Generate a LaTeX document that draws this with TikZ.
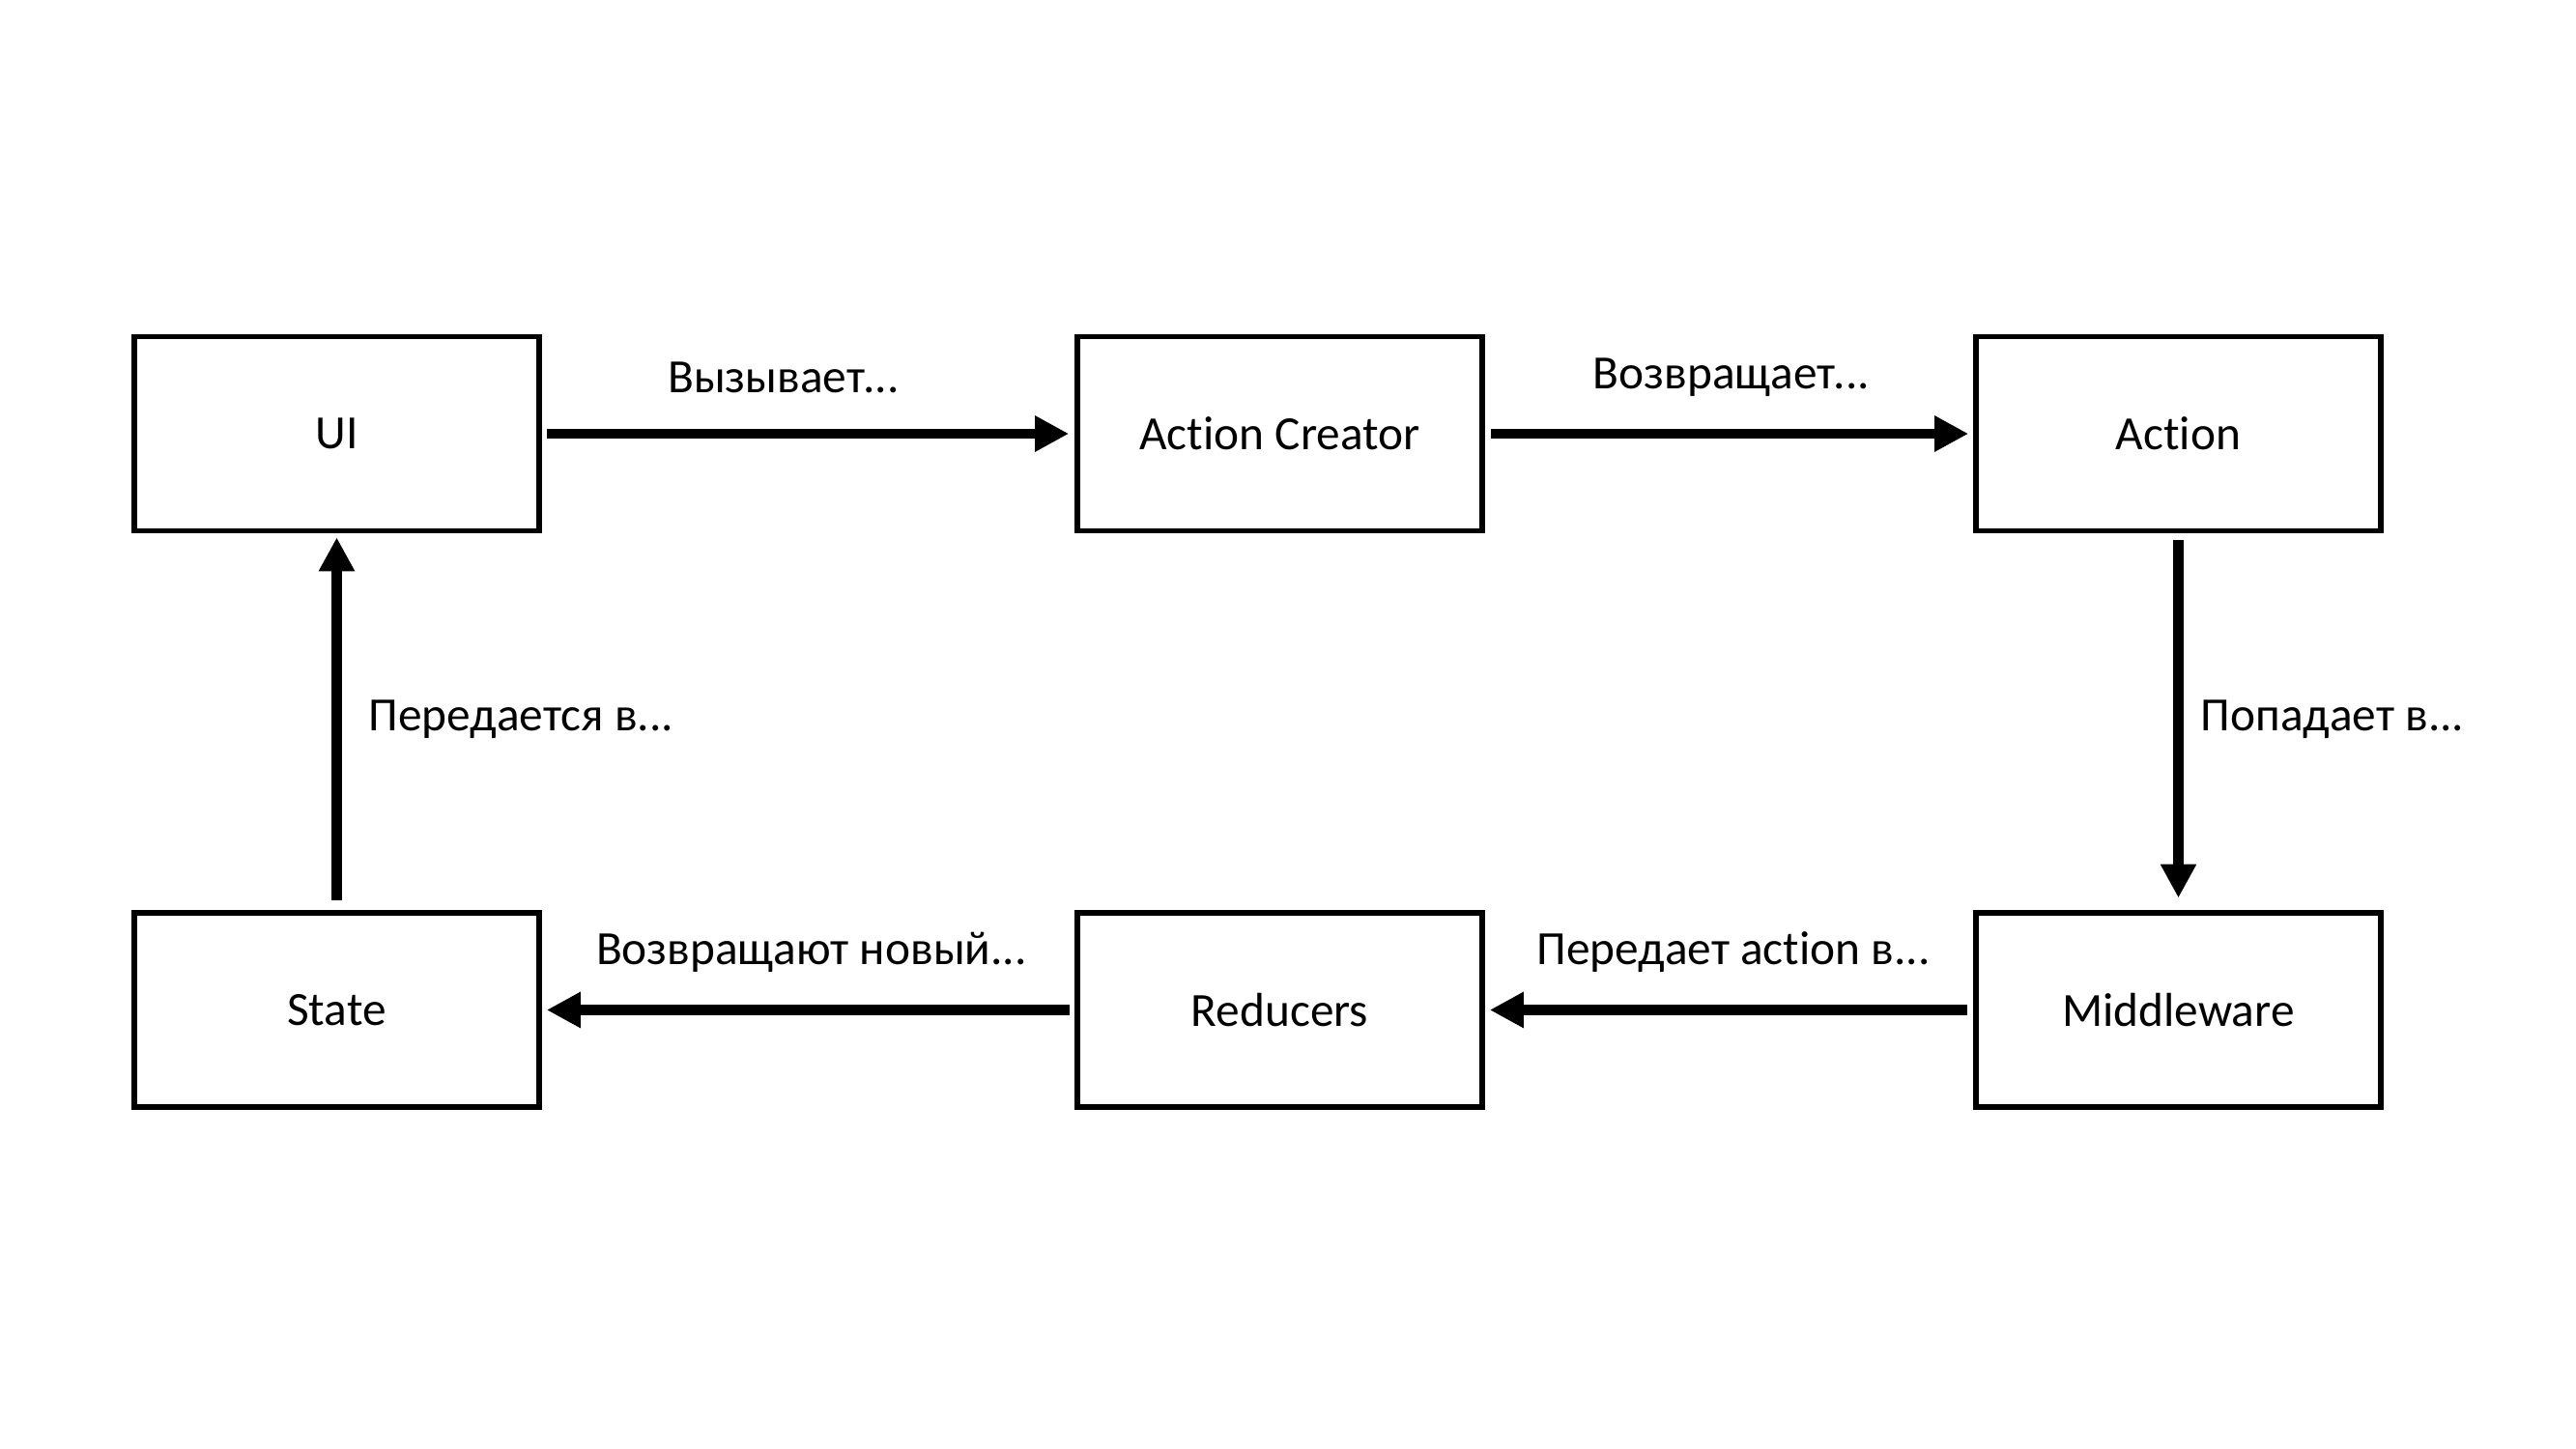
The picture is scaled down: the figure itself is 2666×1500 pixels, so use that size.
\documentclass[tikz,border=0pt]{standalone}
\usepackage{fontspec}
\setmainfont[Ligatures={TeX,NoCommon}]{Carlito}
\usetikzlibrary{arrows.meta}
\begin{document}
\begin{tikzpicture}[x=0.3pt,y=-0.3pt,
  box/.style={draw=black, line width=1.7pt, minimum width=125.7pt, minimum height=60.3pt, inner sep=0pt, font=\fontsize{14.8}{17}\selectfont},
  lbl/.style={inner sep=0pt, font=\fontsize{14.8}{17}\selectfont},
  flow/.style={line width=3.2pt, -{Triangle[length=10.5pt,width=10.5pt]}}]
\useasboundingbox[fill=white] (0,0) rectangle (2666,1500);
\node[box] (ui) at (348.5,449) {UI};
\node[box] (ac) at (1324.5,449) {Action Creator};
\node[box] (act) at (2254.5,449) {Action};
\node[box] (st) at (348.5,1045.5) {State};
\node[box] (red) at (1324.5,1045.5) {Reducers};
\node[box] (mw) at (2254.5,1045.5) {Middleware};

\draw[flow, shorten <=1.5pt, shorten >=1.8pt] (ui.east) -- (ac.west);
\draw[flow, shorten <=1.8pt, shorten >=1.5pt] (ac.east) -- (act.west);
\draw[flow, shorten <=2pt, shorten >=3.8pt] (act.south) -- (mw.north);
\draw[flow, shorten <=1.8pt, shorten >=1.5pt] (mw.west) -- (red.east);
\draw[flow, shorten <=1.5pt, shorten >=1.5pt] (red.west) -- (st.east);
\draw[flow, shorten <=3pt, shorten >=1.2pt] (st.north) -- (ui.south);

\node[lbl] (l1) at (811,391) {Вызывает...};
\node[lbl] (l2) at (1792,391) {Возвращает...};
\node[lbl, anchor=west] (l3) at (2277,745) {Попадает в...};
\node[lbl, anchor=west] (l4) at (381,745) {Передается в...};
\node[lbl] (l5) at (840,986) {Возвращают новый...};
\node[lbl] (l6) at (1794,986) {Передает action в...};
\end{tikzpicture}
\end{document}
